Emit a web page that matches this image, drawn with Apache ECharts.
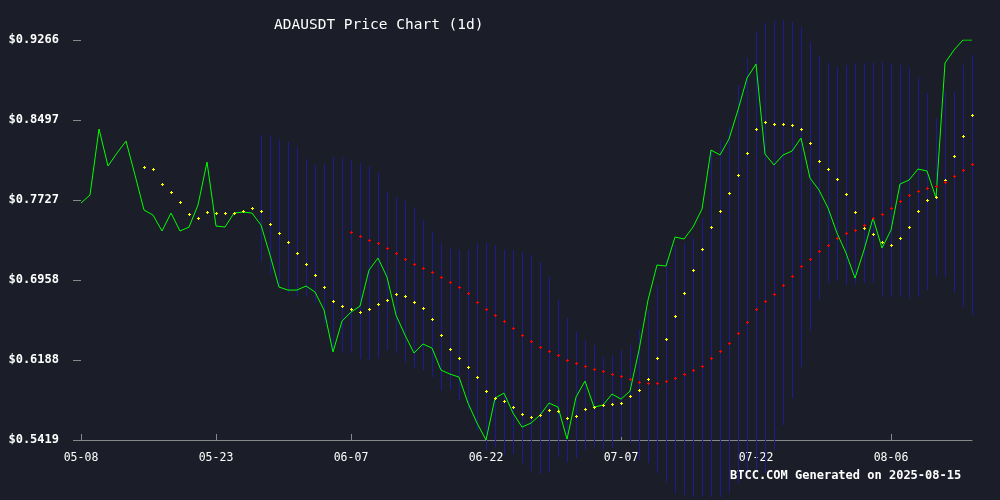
<!DOCTYPE html>
<html><head><meta charset="utf-8">
<script src="https://cdn.jsdelivr.net/npm/echarts@6/dist/echarts.min.js"></script>
<style>html,body{margin:0;padding:0;background:#1b1d28;}#c{width:1000px;height:500px;}</style>
</head><body><div id="c"></div>
<script>
const START_DATE = '2025-05-08';
const DAY_COUNT = 100;
const yTickValues = [0.5419, 0.6188, 0.6958, 0.7727, 0.8497, 0.9266];
const close = [
0.7698,0.7775,0.8410,0.8054,0.8179,0.8294,0.7967,0.7631,0.7582,0.7429,
0.7602,0.7429,0.7467,0.7679,0.8092,0.7477,0.7467,0.7602,0.7611,0.7602,
0.7486,0.7198,0.6890,0.6861,0.6861,0.6900,0.6842,0.6669,0.6265,0.6563,
0.6649,0.6707,0.7053,0.7169,0.6986,0.6620,0.6428,0.6255,0.6342,0.6303,
0.6091,0.6053,0.6024,0.5774,0.5582,0.5419,0.5822,0.5870,0.5678,0.5543,
0.5582,0.5658,0.5774,0.5736,0.5428,0.5832,0.5986,0.5736,0.5755,0.5861,
0.5812,0.5889,0.6284,0.6765,0.7102,0.7092,0.7371,0.7352,0.7467,0.7640,
0.8208,0.8160,0.8314,0.8593,0.8900,0.9035,0.8169,0.8064,0.8160,0.8198,
0.8323,0.7938,0.7823,0.7650,0.7409,0.7217,0.6976,0.7246,0.7554,0.7265,
0.7438,0.7881,0.7919,0.8025,0.8006,0.7746,0.9045,0.9170,0.9266,0.9266];
const maShortStart = 7;
const maShort = [
0.8044,0.8025,0.7881,0.7804,0.7708,0.7592,0.7554,0.7611,0.7602,0.7602,0.7602,0.7621,0.7650,0.7621,0.7496,0.7409,0.7323,
0.7217,0.7111,0.7005,0.6890,0.6755,0.6707,0.6678,0.6649,0.6678,0.6726,0.6765,0.6822,0.6803,0.6746,0.6688,0.6582,0.6428,0.6293,0.6207,0.6120,0.6024,0.5889,0.5822,
0.5793,0.5736,0.5668,0.5639,0.5658,0.5707,0.5697,0.5630,0.5649,0.5716,0.5736,0.5755,0.5764,0.5774,0.5841,0.5899,0.6005,0.6207,0.6390,0.6611,0.6832,0.7053,
0.7255,0.7467,0.7621,0.7794,0.7967,0.8179,0.8410,0.8477,0.8458,0.8458,0.8448,0.8410,0.8275,0.8102,0.8025,0.7929,0.7785,0.7611,0.7457,0.7400,0.7323,0.7294,0.7361,0.7467,0.7621,0.7727,0.7756,0.7919,0.8150,0.8342,0.8544];
const maLongStart = 30;
const maLong = [
0.7419,0.7381,0.7342,0.7313,0.7265,0.7217,0.7159,0.7111,0.7073,0.7034,0.6986,0.6938,0.6890,0.6832,0.6746,0.6678,0.6620,
0.6563,0.6495,0.6428,0.6370,0.6313,0.6274,0.6236,0.6188,0.6159,0.6130,0.6101,0.6082,0.6053,0.6034,0.6005,0.5976,0.5966,0.5966,0.5986,0.6014,0.6053,0.6091,0.6130,0.6207,0.6274,0.6351,0.6447,0.6553,0.6678,0.6755,0.6822,0.6909,0.6996,0.7092,0.7159,0.7236,
0.7294,0.7361,0.7409,0.7438,0.7486,0.7554,0.7592,0.7650,0.7717,0.7775,0.7813,0.7842,0.7861,0.7900,0.7958,0.8015,0.8073];
const bandStart = 20;
const bandUpper = [
0.8352,0.8352,0.8314,0.8285,0.8237,0.8121,0.8064,0.8073,0.8141,0.8141,0.8112,0.8083,0.8054,0.7987,0.7804,0.7756,0.7717,0.7650,0.7534,0.7419,0.7313,0.7265,0.7246,0.7246,0.7313,0.7313,0.7294,
0.7246,0.7246,0.7227,0.7198,0.7130,0.6986,0.6765,0.6592,0.6457,0.6380,0.6332,0.6217,0.6236,0.6284,0.6332,0.6476,0.6669,0.6909,0.7150,0.7294,0.7313,0.7361,0.7554,0.8208,0.8304,
0.8431,0.8833,0.9093,0.9343,0.9430,0.9449,0.9458,0.9439,0.9391,0.9247,0.9112,0.9045,0.9006,0.9026,0.9045,0.9045,0.9054,0.9054,0.9045,0.9026,0.8997,0.8910,0.8756,0.8516,0.8766,0.8766,0.9026,0.9122];
const bandLower = [
0.7130,0.7005,0.6909,0.6832,0.6794,0.6794,0.6736,0.6544,0.6284,0.6255,0.6255,0.6197,0.6188,0.6207,0.6284,0.6255,0.6168,0.6111,0.6091,0.6024,0.5899,0.5899,0.5803,0.5707,0.5514,0.5322,0.5351,
0.5283,0.5283,0.5197,0.5120,0.5091,0.5110,0.5254,0.5206,0.5245,0.5322,0.5351,0.5322,0.5341,0.5447,0.5389,0.5226,0.5197,0.5100,0.5014,0.4908,0.4889,0.4870,0.4870,0.4870,0.4870,
0.4908,0.5004,0.5129,0.5129,0.5100,0.5322,0.5562,0.5822,0.6120,0.6476,0.6765,0.6928,0.6957,0.6909,0.6909,0.6928,0.6928,0.6794,0.6794,0.6794,0.6784,0.6794,0.6861,0.6986,0.6986,0.6832,0.6697,0.6620];

const Y_MIN = yTickValues[0], Y_MAX = yTickValues[yTickValues.length-1];
const Y_STEP = (Y_MAX - Y_MIN) / (yTickValues.length - 1);
const categories = [];
{ const d0 = new Date(START_DATE + 'T00:00:00Z');
  for (let i = 0; i < DAY_COUNT; i++) { const d = new Date(d0.getTime() + i*86400000);
    categories.push(String(d.getUTCMonth()+1).padStart(2,'0') + '-' + String(d.getUTCDate()).padStart(2,'0')); } }
const rel = v => +(v - Y_MIN).toFixed(6);
const offsetSeries = (arr, start) => arr.map((v,i)=>[start+i, rel(v)]);
const bandData = bandUpper.map((u,i)=>[bandStart+i, rel(u), rel(bandLower[i])]);
const FONT = 'DejaVu Sans Mono';

function plusRender(color) {
  return (params, api) => {
    const p = api.coord([api.value(0), api.value(1)]);
    const x = Math.round(p[0]), y = Math.round(p[1]);
    return { type: 'group', children: [
      { type: 'rect', shape: { x: x-1, y: y, width: 3, height: 1 }, style: { fill: color } },
      { type: 'rect', shape: { x: x, y: y-1, width: 1, height: 3 }, style: { fill: color } }
    ] };
  };
}

const chart = echarts.init(document.getElementById('c'));
chart.setOption({
  backgroundColor: '#1b1d28',
  animation: false,
  title: { text: 'ADAUSDT Price Chart (1d)', left: 269, top: 13,
    textStyle: { color: '#ffffff', fontFamily: FONT, fontSize: 14.5, fontWeight: 'normal' } },
  graphic: [{ type: 'text', left: 730, top: 470, style: { text: 'BTCC.COM Generated on 2025-08-15',
    fill: '#ffffff', font: 'bold 12px "DejaVu Sans Mono"' } }],
  grid: { left: 81, right: 28, top: 40, bottom: 60 },
  xAxis: { type: 'category', data: categories, boundaryGap: false,
    axisLine: { lineStyle: { color: '#888888' } },
    axisTick: { interval: 14, length: 6, inside: true, lineStyle: { color: '#888888' } },
    axisLabel: { interval: 14, color: '#ffffff', fontFamily: FONT, fontSize: 11.5, margin: 12 },
    splitLine: { show: false } },
  yAxis: { type: 'value', min: 0, max: +(Y_MAX-Y_MIN).toFixed(6), interval: Y_STEP,
    axisLine: { show: false },
    axisTick: { show: true, length: 8, lineStyle: { color: '#888888' } },
    axisLabel: { color: '#ffffff', fontFamily: FONT, fontWeight: 'bold', fontSize: 12, margin: 22,
      formatter: (v) => { const idx = Math.round(v / Y_STEP); return '$' + yTickValues[idx].toFixed(4); } },
    splitLine: { show: false } },
  series: [
    { type: 'custom', data: bandData, clip: false, z: 1,
      renderItem: (params, api) => {
        const a = api.coord([api.value(0), api.value(1)]);
        const b = api.coord([api.value(0), api.value(2)]);
        const x = Math.round(a[0]) + 0.5;
        return { type: 'line', shape: { x1: x, y1: a[1], x2: x, y2: b[1] },
          style: { stroke: '#1c1c90', lineWidth: 1 } };
      } },
    { type: 'line', data: close.map(rel), showSymbol: false, z: 3,
      lineStyle: { color: '#00ff00', width: 1 } },
    { type: 'custom', data: offsetSeries(maShort, maShortStart), z: 4, renderItem: plusRender('#ffff00') },
    { type: 'custom', data: offsetSeries(maLong, maLongStart), z: 4, renderItem: plusRender('#ff0000') }
  ]
});
</script></body></html>
